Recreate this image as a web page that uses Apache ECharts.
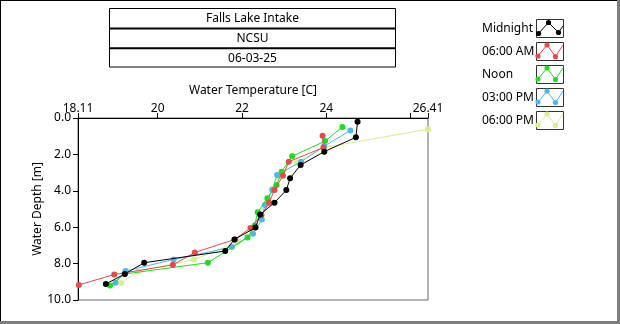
<!DOCTYPE html>
<html>
<head>
<meta charset="utf-8">
<script src="https://cdn.jsdelivr.net/npm/echarts@6/dist/echarts.min.js"></script>
<style>
html,body{margin:0;padding:0;background:#fff;}
#chart{width:620px;height:324px;}
</style>
</head>
<body>
<div id="chart"></div>
<script>
// ---- data ----
const seriesNames = ['Midnight', '06:00 AM', 'Noon', '03:00 PM', '06:00 PM'];
const seriesColors = ['#000000', '#e8474b', '#1fdc1f', '#4cb8ee', '#d6f28c'];

const midnightDepth = [0.20, 1.06, 1.85, 2.58, 3.31, 3.96, 4.65, 5.30, 6.02, 6.67, 7.31, 7.95, 8.57, 9.12];
const midnightTemp  = [24.74, 24.70, 23.95, 23.39, 23.14, 23.05, 22.77, 22.43, 22.32, 21.82, 21.60, 19.68, 19.22, 18.77];

const am6Depth = [0.97, 1.62, 2.40, 3.17, 3.96, 4.66, 5.35, 6.04, 6.67, 7.39, 8.07, 8.60, 9.17];
const am6Temp  = [23.91, 23.93, 23.11, 22.97, 22.77, 22.64, 22.46, 22.20, 21.83, 20.88, 20.36, 18.97, 18.13];

const noonDepth = [0.49, 1.27, 2.10, 2.95, 3.68, 4.41, 5.18, 5.90, 6.57, 7.95, 8.57, 9.20];
const noonTemp  = [24.38, 23.97, 23.19, 22.94, 22.82, 22.60, 22.37, 22.30, 22.13, 21.19, 19.22, 18.87];

const pm3Depth = [0.68, 1.55, 2.40, 3.13, 3.95, 4.78, 5.58, 6.36, 7.09, 7.77, 8.41, 9.05];
const pm3Temp  = [24.57, 23.95, 23.40, 22.83, 22.72, 22.54, 22.47, 22.26, 21.76, 20.38, 19.24, 19.00];

const pm6Depth = [0.62, 1.62, 2.45, 3.20, 3.90, 4.60, 5.30, 6.05, 6.80, 7.78, 8.43, 9.07];
const pm6Temp  = [26.41, 23.95, 23.30, 22.88, 22.70, 22.60, 22.42, 22.25, 21.90, 20.86, 19.54, 19.13];

const xTickValues = [18.11, 20, 22, 24, 26, 26.41];
const xTickLabels = ['18.11', '20', '22', '24', '26.41'];
const titleLines = ['Falls Lake Intake', 'NCSU', '06-03-25'];

// ---- build ----
const depths = [midnightDepth, am6Depth, noonDepth, pm3Depth, pm6Depth];
const temps = [midnightTemp, am6Temp, noonTemp, pm3Temp, pm6Temp];
const FONT = 'Noto Sans';

const chart = echarts.init(document.getElementById('chart'), null, {renderer: 'canvas'});

const series = seriesNames.map((name, i) => ({
  name: name,
  type: 'line',
  data: temps[i].map((t, k) => [t, depths[i][k]]),
  symbol: 'circle',
  symbolSize: 6,
  z: 10 - i,
  lineStyle: {width: 1, color: seriesColors[i]},
  itemStyle: {color: seriesColors[i]},
  emphasis: {disabled: true},
  animation: false
}));

// legend icon boxes and glyphs (decoration)
const legendX = 536.5, legendY0 = 19, legendStep = 23;
const iconGraphics = [];
seriesNames.forEach((n, i) => {
  const y = legendY0 + i * legendStep;
  iconGraphics.push({
    type: 'rect', z: 99, silent: true,
    shape: {x: legendX, y: y + 0.5, width: 27, height: 18},
    style: {fill: '#fff', stroke: '#333', lineWidth: 1}
  });
  const pts = i === 0
    ? [[2, 14.5], [12, 3.5], [22, 13.5], [26.5, 7]]
    : [[1.5, 14], [10.5, 3], [19, 14.5], [26.5, 3]];
  iconGraphics.push({
    type: 'polyline', z: 100, silent: true,
    shape: {points: pts.map(p => [legendX + p[0], y + p[1]])},
    style: {stroke: seriesColors[i], lineWidth: 1, fill: null}
  });
  [pts[0], pts[1], pts[2]].forEach(p => {
    iconGraphics.push({
      type: 'circle', z: 101, silent: true,
      shape: {cx: legendX + p[0], cy: y + p[1], r: 2.6},
      style: {fill: seriesColors[i]}
    });
  });
});

const option = {
  backgroundColor: '#ffffff',
  animation: false,
  textStyle: {fontFamily: FONT},
  title: titleLines.map((t, i) => ({
    text: t,
    left: 252.5,
    top: 11 + i * 20,
    textAlign: 'center',
    padding: 0,
    textStyle: {fontFamily: FONT, fontSize: 12, fontWeight: 'normal', color: '#000', lineHeight: 15}
  })),
  legend: {
    orient: 'vertical',
    left: 477,
    top: 19.5,
    itemWidth: 0,
    itemHeight: 18,
    itemGap: 5,
    align: 'left',
    icon: 'rect',
    selectedMode: false,
    padding: 0,
    itemStyle: {color: 'transparent', borderWidth: 0},
    textStyle: {fontFamily: FONT, fontSize: 12, color: '#000'},
    data: seriesNames
  },
  grid: {
    left: 78, top: 118, width: 350, height: 182,
    show: true, borderColor: '#666', borderWidth: 1, backgroundColor: '#fff',
    containLabel: false
  },
  xAxis: {
    type: 'value',
    position: 'top',
    min: 18.11,
    max: 26.41,
    name: 'Water Temperature [C]',
    nameLocation: 'middle',
    nameGap: 21,
    nameTextStyle: {fontFamily: FONT, fontSize: 12, color: '#000'},
    axisLine: {show: true, lineStyle: {color: '#000', width: 1}},
    axisTick: {show: true, length: 5, lineStyle: {color: '#000'}, customValues: xTickValues},
    axisLabel: {
      customValues: xTickLabels.map(Number),
      formatter: v => xTickLabels[xTickLabels.map(Number).indexOf(v)] ?? String(v),
      fontFamily: FONT, fontSize: 12, color: '#000', margin: 3
    },
    splitLine: {show: false}
  },
  yAxis: {
    type: 'value',
    inverse: true,
    min: 0,
    max: 10,
    interval: 2,
    name: 'Water Depth [m]',
    nameLocation: 'middle',
    nameGap: 34,
    nameMoveOverlap: false,
    nameTextStyle: {fontFamily: FONT, fontSize: 12, color: '#000'},
    axisLine: {show: true, lineStyle: {color: '#000', width: 1}},
    axisTick: {show: true, length: 5, lineStyle: {color: '#000'}},
    axisLabel: {formatter: v => v.toFixed(1), fontFamily: FONT, fontSize: 12, color: '#000', margin: 7},
    splitLine: {show: false}
  },
  graphic: [
    // outer frame
    {type: 'line', silent: true, shape: {x1: 0, y1: 0.5, x2: 620, y2: 0.5}, style: {stroke: '#000', lineWidth: 1}},
    {type: 'line', silent: true, shape: {x1: 0.5, y1: 0, x2: 0.5, y2: 324}, style: {stroke: '#000', lineWidth: 1}},
    {type: 'rect', silent: true, shape: {x: 617, y: 0, width: 3, height: 324}, style: {fill: '#7d7d7d'}},
    {type: 'rect', silent: true, shape: {x: 0, y: 321, width: 620, height: 3}, style: {fill: '#7d7d7d'}},
    // title box
    {type: 'rect', silent: true, shape: {x: 109.5, y: 8.5, width: 286, height: 58.5}, style: {fill: null, stroke: '#000', lineWidth: 1}},
    {type: 'line', silent: true, shape: {x1: 109, y1: 28.5, x2: 396, y2: 28.5}, style: {stroke: '#000', lineWidth: 2}},
    {type: 'line', silent: true, shape: {x1: 109, y1: 48.3, x2: 396, y2: 48.3}, style: {stroke: '#000', lineWidth: 2}}
  ].concat(iconGraphics),
  series: series
};

chart.setOption(option);
</script>
</body>
</html>
